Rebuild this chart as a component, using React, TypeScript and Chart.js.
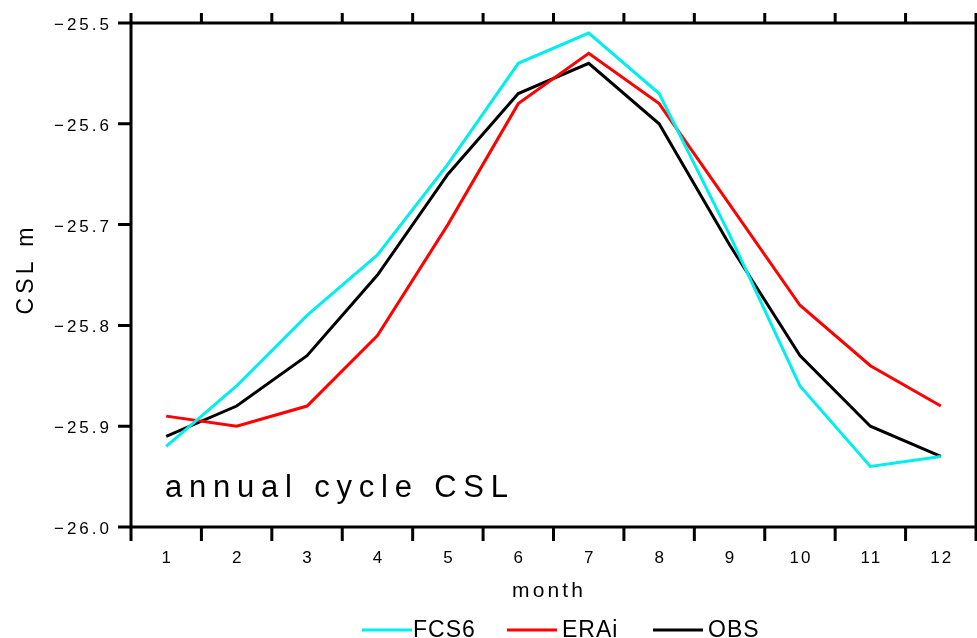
import React, { useEffect, useRef } from "react";
import { Chart, registerables } from "chart.js";

Chart.register(...registerables);

const months = [1, 2, 3, 4, 5, 6, 7, 8, 9, 10, 11, 12];
const fcs6 = [-25.92, -25.86, -25.79, -25.73, -25.64, -25.54, -25.51, -25.57, -25.71, -25.86, -25.94, -25.93];
const erai = [-25.89, -25.90, -25.88, -25.81, -25.70, -25.58, -25.53, -25.58, -25.68, -25.78, -25.84, -25.88];
const obs = [-25.91, -25.88, -25.83, -25.75, -25.65, -25.57, -25.54, -25.60, -25.72, -25.83, -25.90, -25.93];
const yTicks = [-26.0, -25.9, -25.8, -25.7, -25.6, -25.5];
const xMinorTicks = [0.5, 1.5, 2.5, 3.5, 4.5, 5.5, 6.5, 7.5, 8.5, 9.5, 10.5, 11.5, 12.5];
const seriesNames = ["FCS6", "ERAi", "OBS"];
const seriesColors = ["#00eeee", "#ff0000", "#000000"];
const titleText = "annual cycle CSL";
const xTitle = "month";
const yTitle = "CSL m";

const FONT = '"Liberation Sans", Arial, Helvetica, sans-serif';

function drawSpaced(
  ctx: CanvasRenderingContext2D,
  text: string,
  x: number,
  y: number,
  size: number,
  align: "left" | "center" | "right",
  spacing?: number,
  targetWidth?: number
) {
  ctx.save();
  ctx.font = `${size}px ${FONT}`;
  (ctx as any).letterSpacing = "0px";
  const base = ctx.measureText(text).width;
  let sp = spacing ?? 0;
  if (targetWidth !== undefined && text.length > 1) {
    sp = (targetWidth - base) / (text.length - 1);
  }
  (ctx as any).letterSpacing = `${sp}px`;
  const w = base + sp * (text.length - 1);
  let left = x;
  if (align === "center") left = x - w / 2;
  if (align === "right") left = x - w;
  ctx.textAlign = "left";
  ctx.textBaseline = "alphabetic";
  ctx.fillStyle = "#000";
  ctx.fillText(text, left, y);
  ctx.restore();
}

const framePlugin = {
  id: "gradsFrame",
  afterDraw(chart: any) {
    const ctx: CanvasRenderingContext2D = chart.ctx;
    const { left, right, top, bottom } = chart.chartArea;
    const xs = chart.scales.x;
    const ys = chart.scales.y;
    ctx.save();
    ctx.strokeStyle = "#000";
    ctx.lineWidth = 3;
    ctx.lineCap = "butt";
    ctx.strokeRect(left, top, right - left, bottom - top);
    // x ticks (bottom down, top up)
    ctx.beginPath();
    for (const v of xMinorTicks) {
      const px = xs.getPixelForValue(v);
      ctx.moveTo(px, bottom);
      ctx.lineTo(px, bottom + 14);
      ctx.moveTo(px, top);
      ctx.lineTo(px, top - 10);
    }
    for (const v of yTicks) {
      const py = ys.getPixelForValue(v);
      ctx.moveTo(left, py);
      ctx.lineTo(left - 13, py);
    }
    ctx.stroke();
    ctx.restore();

    // y tick labels
    for (const v of yTicks) {
      const py = ys.getPixelForValue(v);
      const label = "\u2212" + Math.abs(v).toFixed(1);
      drawSpaced(ctx, label, 109, py + 7, 17, "right", 3);
    }
    // x tick labels
    for (const m of months) {
      const px = xs.getPixelForValue(m);
      drawSpaced(ctx, String(m), px, 563, 17, "center", 2);
    }
    // axis titles
    drawSpaced(ctx, xTitle, 512, 597, 21, "left", undefined, 71);
    ctx.save();
    ctx.translate(33, 271);
    ctx.rotate(-Math.PI / 2);
    drawSpaced(ctx, yTitle, 0, 0, 23, "center", undefined, 87);
    ctx.restore();

    // in-plot title
    drawSpaced(ctx, titleText, 165, 497, 31, "left", undefined, 343);

    // legend
    const legendLines = [
      [362, 412, 413],
      [507, 557, 562],
      [653, 703, 708],
    ];
    seriesNames.forEach((name, i) => {
      const [x0, x1, tx] = legendLines[i];
      ctx.save();
      ctx.strokeStyle = seriesColors[i];
      ctx.lineWidth = 3;
      ctx.beginPath();
      ctx.moveTo(x0, 630);
      ctx.lineTo(x1, 630);
      ctx.stroke();
      ctx.restore();
      drawSpaced(ctx, name, tx, 637, 23, "left", 1);
    });
  },
};

export default function App() {
  const canvasRef = useRef<HTMLCanvasElement | null>(null);

  useEffect(() => {
    document.body.style.margin = "0";
    const canvas = canvasRef.current;
    if (!canvas) return;
    const mk = (data: number[], i: number) => ({
      label: seriesNames[i],
      data: months.map((m, k) => ({ x: m, y: data[k] })),
      borderColor: seriesColors[i],
      backgroundColor: seriesColors[i],
      borderWidth: 3,
      pointRadius: 0,
      tension: 0,
      fill: false,
    });
    const chart = new Chart(canvas, {
      type: "line",
      data: {
        datasets: [mk(fcs6, 0), mk(erai, 1), mk(obs, 2)],
      },
      options: {
        responsive: false,
        animation: false,
        devicePixelRatio: 1,
        layout: { padding: { left: 0, right: 1, top: 23, bottom: 0 } },
        plugins: {
          legend: { display: false },
          title: { display: false },
          tooltip: { enabled: false },
        },
        scales: {
          x: {
            type: "linear",
            min: 0.5,
            max: 12.5,
            ticks: { display: false },
            grid: { display: false },
            border: { display: false },
            afterFit: (s: any) => {
              s.height = 111;
            },
          },
          y: {
            type: "linear",
            min: -26,
            max: -25.5,
            ticks: { display: false },
            grid: { display: false },
            border: { display: false },
            afterFit: (s: any) => {
              s.width = 131;
            },
          },
        },
      },
      plugins: [framePlugin],
    } as any);
    return () => chart.destroy();
  }, []);

  return (
    <div style={{ position: "absolute", left: 0, top: 0, width: 977, height: 638, background: "#fff" }}>
      <canvas ref={canvasRef} width={977} height={638} />
    </div>
  );
}
